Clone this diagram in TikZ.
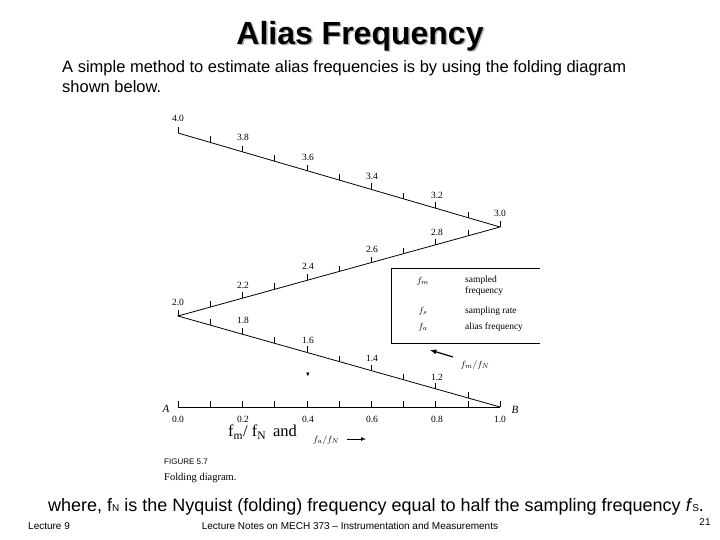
\documentclass[tikz,border=0pt]{standalone}
\usepackage{amssymb}
\usepackage{fontspec}
\setmainfont{Liberation Serif}
\setsansfont{Liberation Sans}
\usetikzlibrary{calc}
\begin{document}
\begin{tikzpicture}[x=1pt,y=-1pt,
  lab/.style={font=\fontsize{9.5}{11}\selectfont},
  ln/.style={line width=0.8pt},
  tk/.style={line width=0.5pt},
  sans/.style={font=\sffamily\fontsize{16.5}{19}\selectfont, anchor=west, inner sep=0}]
\useasboundingbox (0,0) rectangle (720,540);
\fill[white] (0,0) rectangle (720,540);
% title
\node[font=\sffamily\bfseries\fontsize{32}{36}\selectfont, text=gray!60] at (361.5,37.5) {Alias Frequency};
\node (title) [font=\sffamily\bfseries\fontsize{32}{36}\selectfont] at (360,36) {Alias Frequency};
\node (p1) [sans] at (62,68) {A simple method to estimate alias frequencies is by using the folding diagram};
\node (p2) [sans] at (62,87) {shown below.};
% folding lines
\coordinate (P4) at (178,133);
\coordinate (P3) at (500,227);
\coordinate (P2) at (178,316);
\coordinate (P1) at (500,407);
\coordinate (P0) at (178,407);
\draw[ln] (P4) -- (P3) -- (P2) -- (P1);
\draw[ln] (P0) -- (P1);
\foreach \i in {0,...,10}{
  \draw[tk] ($(P4)!\i/10!(P3)$) -- ++(0,-6);
  \draw[tk] ($(P3)!\i/10!(P2)$) -- ++(0,-6);
  \draw[tk] ($(P2)!\i/10!(P1)$) -- ++(0,-6);
  \draw[tk] ($(P0)!\i/10!(P1)$) -- ++(0,-6);
}
\foreach \v/\x/\y in {4.0/178/118, 3.8/243/137, 3.6/308/157, 3.4/372/176, 3.2/437/195, 3.0/500/213,
  2.8/437/232, 2.6/372/249, 2.4/308/266, 2.2/243/285, 2.0/178/302, 1.8/243/320, 1.6/308/340, 1.4/372/358, 1.2/437/377}
  \node[lab] at (\x,\y) {\v};
\foreach \v/\x in {0.0/178, 0.2/243, 0.4/308, 0.6/372, 0.8/437, 1.0/500}
  \node[lab] at (\x,419) {\v};
\node (A) [font=\itshape\fontsize{11}{12}\selectfont] at (166,409) {A};
\node (B) [font=\itshape\fontsize{11}{12}\selectfont] at (515,410) {B};
\node (dot) [font=\fontsize{6}{6}\selectfont] at (308,375) {$\blacktriangledown$};
% legend
\draw[line width=0.6pt] (540,268) -- (391,268) -- (391,343) -- (540,343);
\node (l1) [lab] at (423,281) {$f_m$};
\node (l1t)[lab,anchor=west,align=left,inner sep=0] at (465,286) {sampled\\frequency};
\node (l2) [lab] at (423,311) {$f_s$};
\node (l2t)[lab,anchor=west,inner sep=0] at (465,311) {sampling rate};
\node (l3) [lab] at (423,327) {$f_a$};
\node (l3t)[lab,anchor=west,inner sep=0] at (465,327) {alias frequency};
\coordinate (a1s) at (453,357);
\coordinate (a1e) at (430,350);
\draw[line width=1.2pt,-latex] (a1s) -- (a1e);
\node (fmfn) [lab] at (475,365) {$f_m/f_N$};
\node (big) [font=\fontsize{16.5}{19}\selectfont, anchor=west, inner sep=0] at (228,432) {f$_\mathrm{m}$/ f$_\mathrm{N}$\,\ and};
\node (fafn) [lab,anchor=west,inner sep=0] at (313,440) {$f_a/f_N$};
\coordinate (a2s) at (347,439);
\coordinate (a2e) at (366,439);
\draw[line width=0.7pt,-latex] (a2s) -- (a2e);
\node (fig) [font=\sffamily\fontsize{8}{9}\selectfont, anchor=west, inner sep=0] at (164,462) {FIGURE 5.7};
\node (figc) [font=\fontsize{10.5}{12}\selectfont, anchor=west, inner sep=0] at (164,478) {Folding diagram.};
% bottom
\node (wh) [sans, font=\sffamily\fontsize{18}{20}\selectfont] at (48,507) {where, f{\fontsize{10}{11}\selectfont N} is the Nyquist (folding) frequency equal to half the sampling frequency \textit{f}{\fontsize{10}{11}\selectfont S}.};
\node (f1) [font=\sffamily\fontsize{10}{11}\selectfont, anchor=west, inner sep=0] at (28,526) {Lecture 9};
\node (f2) [font=\sffamily\fontsize{10}{11}\selectfont] at (350,526) {Lecture Notes on MECH 373 -- Instrumentation and Measurements};
\node (f3) [font=\sffamily\fontsize{10}{11}\selectfont] at (705,522) {21};
\end{tikzpicture}
\end{document}
